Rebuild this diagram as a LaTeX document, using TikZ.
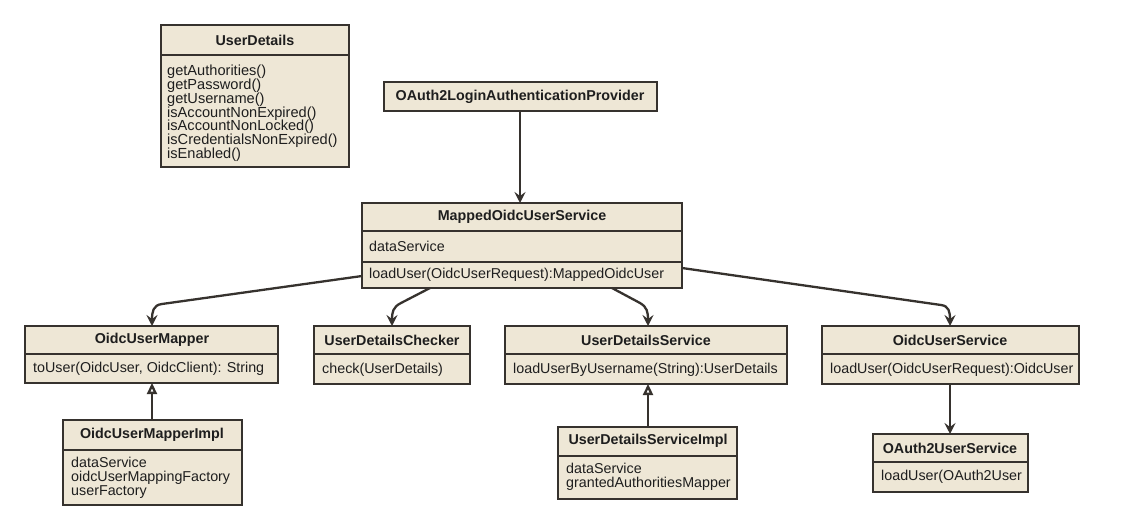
\documentclass[tikz,border=0pt]{standalone}
\usepackage{fontspec}
\setmainfont{Liberation Sans}
\usetikzlibrary{arrows.meta}
\definecolor{boxfill}{HTML}{EEE7D6}
\definecolor{linec}{HTML}{36322E}
\definecolor{txtc}{HTML}{1E1E1E}
\tikzset{
  cls/.style={draw=linec, fill=boxfill, line width=2.3pt, inner sep=0pt, outer sep=0pt, anchor=north west},
  sep/.style={draw=linec, line width=2.3pt},
  head/.style={font=\fontsize{14.3}{14}\selectfont\bfseries, text=txtc, inner sep=0pt},
  memb/.style={font=\fontsize{14.3}{13.8}\selectfont, text=txtc, inner sep=0pt, anchor=west, align=left},
  conn/.style={draw=linec, line width=2.3pt, -{Stealth[length=11pt,width=11pt,inset=4pt]}},
  inh/.style={draw=linec, line width=2.3pt, -{Triangle[open,length=11pt,width=10pt,fill=white,line width=2.3pt]}}
}
\begin{document}
\begin{tikzpicture}[x=1pt,y=-1pt]
\useasboundingbox[fill=white] (0,0) rectangle (1122,530);

% UserDetails
\node[cls, minimum width=188pt, minimum height=142pt] (ud) at (161,25) {};
\draw[sep] (ud.west |- 0,55) -- (ud.east |- 0,55);
\node[head] (udh) at (255,40) {UserDetails};
\node[memb, anchor=north west, font=\fontsize{14.6}{13.8}\selectfont] (udm) at (167,65) {getAuthorities()\\getPassword()\\getUsername()\\isAccountNonExpired()\\isAccountNonLocked()\\isCredentialsNonExpired()\\isEnabled()};

% OAuth2LoginAuthenticationProvider
\node[cls, minimum width=273pt, minimum height=29pt] (prov) at (384,82) {};
\node[head] (provh) at (520,96.5) {OAuth2LoginAuthenticationProvider};

% MappedOidcUserService
\node[cls, minimum width=320pt, minimum height=85pt] (mous) at (362,203) {};
\draw[sep] (mous.west |- 0,231) -- (mous.east |- 0,231);
\draw[sep] (mous.west |- 0,262) -- (mous.east |- 0,262);
\node[head] (moush) at (522,217) {MappedOidcUserService};
\node[memb] (mousa) at (369,246.5) {dataService};
\node[memb] (mousm) at (369,275) {loadUser(OidcUserRequest):MappedOidcUser};

% OidcUserMapper
\node[cls, minimum width=253pt, minimum height=57pt] (oum) at (25,326) {};
\draw[sep] (oum.west |- 0,354) -- (oum.east |- 0,354);
\node[head] (oumh) at (152,340) {OidcUserMapper};
\node[memb] (oumm) at (33,369) {toUser(OidcUser, OidcClient): String};

% OidcUserMapperImpl
\node[cls, minimum width=179pt, minimum height=85pt] (oumi) at (63,420) {};
\draw[sep] (oumi.west |- 0,450) -- (oumi.east |- 0,450);
\node[head] (oumih) at (152,435) {OidcUserMapperImpl};
\node[memb, anchor=north west] (oumia) at (71,457) {dataService\\oidcUserMappingFactory\\userFactory};

% UserDetailsChecker
\node[cls, minimum width=156pt, minimum height=58pt] (udc) at (314,326) {};
\draw[sep] (udc.west |- 0,354) -- (udc.east |- 0,354);
\node[head] (udch) at (392,340) {UserDetailsChecker};
\node[memb] (udcm) at (322,369.5) {check(UserDetails)};

% UserDetailsService
\node[cls, minimum width=282pt, minimum height=58pt] (uds) at (505,326) {};
\draw[sep] (uds.west |- 0,354) -- (uds.east |- 0,354);
\node[head] (udsh) at (646,340) {UserDetailsService};
\node[memb] (udsm) at (513,369.5) {loadUserByUsername(String):UserDetails};

% UserDetailsServiceImpl
\node[cls, minimum width=179pt, minimum height=72pt] (udsi) at (558,427) {};
\draw[sep] (udsi.west |- 0,456) -- (udsi.east |- 0,456);
\node[head] (udsih) at (648,441) {UserDetailsServiceImpl};
\node[memb, anchor=north west] (udsia) at (566,463) {dataService\\grantedAuthoritiesMapper};

% OidcUserService
\node[cls, minimum width=257pt, minimum height=58pt] (ous) at (822,326) {};
\draw[sep] (ous.west |- 0,354) -- (ous.east |- 0,354);
\node[head] (oush) at (950,340) {OidcUserService};
\node[memb] (ousm) at (830,369.5) {loadUser(OidcUserRequest):OidcUser};

% OAuth2UserService
\node[cls, minimum width=155pt, minimum height=58pt] (o2us) at (873,434) {};
\draw[sep] (o2us.west |- 0,462) -- (o2us.east |- 0,462);
\node[head] (o2ush) at (950,448) {OAuth2UserService};
\node[memb] (o2usm) at (881,477) {loadUser(OAuth2User};

% connectors
\coordinate (b1) at (162,304);
\coordinate (b2) at (401,303);
\coordinate (b3) at (640,303);
\coordinate (b4) at (941,305);
\draw[conn] (prov.south -| 520,0) -- (mous.north -| 520,0);
\draw[conn] (mous.west |- 0,276) -- (b1) .. controls (153,305) and (152,312) .. (oum.north -| 152,0);
\draw[conn] (mous.south -| 430,0) -- (b2) .. controls (393,307) and (392,312) .. (udc.north -| 392,0);
\draw[conn] (mous.south -| 612,0) -- (b3) .. controls (647,307) and (648,312) .. (uds.north -| 648,0);
\draw[conn] (mous.east |- 0,268) -- (b4) .. controls (949,306) and (950,312) .. (ous.north -| 950,0);
\draw[conn] (ous.south -| 950,0) -- (o2us.north -| 950,0);
\draw[inh] (oumi.north -| 152,0) -- (oum.south -| 152,0);
\draw[inh] (udsi.north -| 648,0) -- (uds.south -| 648,0);
\end{tikzpicture}
\end{document}
